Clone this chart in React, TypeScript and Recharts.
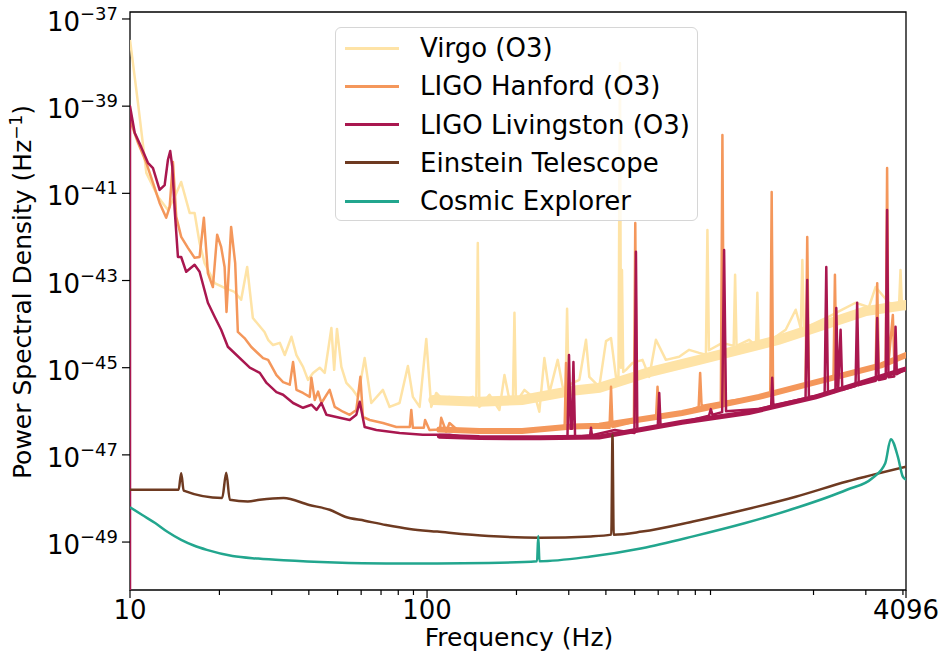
import React from "react";
import { LineChart, Line, XAxis, YAxis, ReferenceArea } from "recharts";

// every point is [frequency in Hz, log10 of the PSD in 1/Hz]
type Pt = [number, number];

const virgo: Pt[] = [
  [10, -37.48], [10.64, -38.93], [11.35, -40.53], [12.42, -41.08], [13.42, -41.38],
  [14.14, -41.08], [14.87, -40.74], [15.88, -41.45], [16.5, -41.45], [17.15, -42.14],
  [17.83, -42.6], [19.27, -43.06], [20.82, -43.17], [22.49, -43.26], [23.67, -43.44],
  [24.8, -42.69], [25.92, -43.86], [28.37, -44.18], [29.17, -44.36], [30.31, -44.48],
  [31.93, -44.43], [33.19, -44.71], [34.96, -44.29], [36.34, -44.71], [38.24, -44.98],
  [39.74, -45.28], [41.31, -45.12], [43.52, -45.0], [45.24, -45.12], [47.64, -44.09],
  [48.68, -45.05], [49.75, -44.11], [51.47, -44.98], [53.5, -45.35], [56.3, -45.51],
  [58.53, -45.67], [61.65, -44.78], [64.92, -45.81], [71.03, -45.51], [74.8, -45.9],
  [80.8, -45.81], [86.2, -44.96], [89.6, -45.67], [94.4, -45.9], [99.4, -44.34],
  [103.3, -45.9], [107.4, -45.58], [113, -45.74], [119, -45.67], [125.3, -45.81],
  [142.5, -45.67], [146.5, -45.8], [148.2, -42.14], [150, -45.9], [162.2, -45.62],
  [175.2, -45.97], [182.2, -45.17], [189.4, -45.74], [194.6, -45.7], [196.9, -43.74],
  [199.2, -45.8], [212.7, -45.51], [232.8, -45.74], [238.8, -46.01], [248.3, -44.78],
  [258.1, -45.58], [275.3, -44.82], [286.2, -45.44], [292.6, -45.5], [296.1, -43.65],
  [299.6, -45.4], [309.2, -45.35], [325.6, -45.28], [342.9, -44.36], [351.8, -45.21],
  [380, -45.44], [400.4, -44.39], [416.2, -44.32], [432.5, -45.21], [440.9, -45.2],
  [446.1, -38.01], [449.6, -45.0], [453.1, -42.76], [457.5, -45.1], [467.4, -45.05],
  [491.9, -44.89], [531.4, -44.82], [559.7, -45.21], [589.5, -44.36], [636.8, -44.82],
  [706.1, -44.75], [762.7, -44.59], [824.1, -44.66], [868.5, -44.7], [878.7, -41.84],
  [889, -44.6], [987, -44.43], [1077, -44.5], [1089, -42.87], [1101, -44.5],
  [1213, -44.36], [1280, -44.5], [1294, -43.28], [1308, -44.5], [1492, -44.29],
  [1612, -44.13], [1742, -43.67], [1812, -44.1], [1834, -42.53], [1856, -44.1],
  [2033, -43.97], [2254, -43.83], [2498, -43.67], [2772, -43.51], [3072, -43.61],
  [3236, -43.15], [3585, -43.51], [3880, -43.6], [3925, -42.76], [3970, -43.6],
  [4096, -43.67],
];

// middle of Virgo's noisy floor band
const virgoFloor: Pt[] = [
  [105, -45.74], [150, -45.78], [209, -45.74], [308, -45.53], [380, -45.46],
  [560, -45.1], [824, -44.82], [1530, -44.36], [3002, -43.7], [4096, -43.56],
];

const hanford: Pt[] = [
  [10, -39.32], [10.64, -39.84], [11.35, -40.3], [11.95, -40.76], [12.58, -41.22],
  [13.24, -41.56], [13.6, -41.31], [13.95, -40.28], [14.31, -41.54], [14.87, -42.0],
  [15.67, -42.25], [16.5, -42.48], [17.15, -42.46], [17.73, -41.56], [18.29, -42.83],
  [19.01, -43.15], [19.65, -41.95], [20.27, -42.23], [20.82, -42.69], [21.13, -43.72],
  [21.9, -41.77], [22.6, -42.6], [23.07, -44.18], [24.29, -44.32], [25.57, -44.52],
  [26.67, -44.64], [28.06, -44.78], [29.17, -44.82], [31.12, -45.17], [32.76, -45.33],
  [34.5, -45.39], [35.4, -44.87], [36.34, -45.51], [38.24, -45.58], [40.27, -45.67],
  [40.8, -45.23], [41.88, -45.74], [42.96, -45.55], [44.1, -45.81], [47, -45.51],
  [48.88, -45.9], [52.12, -46.01], [54.9, -46.08], [57.8, -45.97], [59.64, -45.21],
  [60.85, -46.13], [64.1, -46.2], [71.03, -46.27], [78.8, -46.36], [87.5, -46.36],
  [88.5, -45.97], [89.6, -46.38], [97.5, -46.38], [98.5, -46.2], [101.9, -46.43],
  [110.5, -46.42], [111.6, -46.15], [116, -46.47], [119, -46.27], [128.6, -46.47],
  [162.2, -46.47], [209.9, -46.47], [290.5, -46.38], [293.8, -44.89], [297.2, -46.36],
  [351.8, -46.38], [411.4, -46.38], [416.2, -45.44], [421, -46.36], [479.5, -46.27],
  [497, -46.25], [502.3, -41.68], [507.6, -46.22], [590, -46.15], [596.9, -45.44],
  [604, -46.12], [724.1, -46.04], [821, -45.9], [830.5, -45.12], [840, -45.88],
  [975, -45.8], [987, -39.66], [999, -45.78], [1311, -45.67], [1430, -45.6],
  [1446, -40.97], [1462, -45.58], [1880, -45.4], [1905, -42.0], [1930, -45.36],
  [2335, -45.2], [2361, -42.87], [2390, -45.18], [3240, -44.97], [3277, -43.06],
  [3315, -44.96], [3500, -44.92], [3538, -40.42], [3575, -44.9], [3699, -43.79],
  [3740, -44.85], [4096, -44.71],
];

const hanfordFloor: Pt[] = [
  [110, -46.42], [150, -46.45], [209, -46.45], [308, -46.35], [380, -46.33],
  [722, -46.04], [1311, -45.67], [2038, -45.33], [3397, -44.94], [4096, -44.71],
];

const livingston: Pt[] = [
  [10, -52], [10, -39.0], [10.37, -39.61], [10.91, -39.94], [11.49, -40.3],
  [11.95, -40.42], [12.58, -40.92], [13.08, -40.81], [13.42, -40.23], [13.66, -40.03],
  [13.88, -40.39], [14.14, -41.38], [14.5, -42.46], [14.87, -42.46], [15.46, -42.8],
  [16.5, -42.64], [17.15, -42.8], [18.29, -43.51], [19.27, -43.83], [20.27, -44.13],
  [21.35, -44.52], [25.31, -45.0], [27.35, -45.12], [28.82, -45.35], [31.12, -45.56],
  [32.76, -45.62], [35.4, -45.81], [38.24, -45.92], [40.8, -45.85], [42.44, -45.97],
  [44.1, -45.81], [45.84, -46.08], [50.8, -46.15], [54.9, -46.2], [57.8, -46.08],
  [59.33, -45.78], [61.65, -46.36], [67.5, -46.43], [80.8, -46.5], [96.8, -46.54],
  [119, -46.54], [142.2, -46.61], [238.8, -46.61], [297, -46.59], [300.5, -44.71],
  [304.5, -46.4], [307.5, -46.4], [311, -44.87], [315, -46.59], [354, -46.55],
  [356.4, -46.38], [359, -46.55], [428.9, -46.43], [499, -46.5], [504.9, -42.34],
  [510.5, -46.45], [598, -46.35], [604.8, -45.58], [611, -46.33], [724.1, -46.25],
  [890, -46.1], [902.1, -45.95], [914, -46.08], [985, -46.02], [1000, -42.3],
  [1015, -46.0], [1300, -45.95], [1440, -45.88], [1452, -45.23], [1465, -45.86],
  [1880, -45.7], [1905, -42.99], [1930, -45.68], [2180, -45.6], [2208, -42.69],
  [2237, -45.58], [2370, -45.55], [2386, -43.63], [2420, -45.53], [2467, -44.13],
  [2500, -45.51], [2770, -45.42], [2805, -43.51], [2840, -45.4], [3240, -45.3],
  [3277, -43.86], [3315, -45.28], [3500, -45.25], [3538, -41.38], [3575, -45.22],
  [3740, -45.2], [3777, -44.06], [3815, -45.15], [4096, -45.03],
];

const livingstonFloor: Pt[] = [
  [110, -46.57], [150, -46.6], [240, -46.61], [380, -46.59], [722, -46.25],
  [1213, -46.03], [2038, -45.67], [3397, -45.2], [4096, -45.03],
];

const einstein: Pt[] = [
  [10, -47.8], [14.58, -47.8], [14.87, -47.42], [15.16, -47.82], [20.43, -47.99],
  [21.09, -47.41], [21.68, -48.03], [24.93, -48.07], [27.35, -48.03], [32.88, -47.99],
  [40.12, -48.15], [47, -48.26], [52.97, -48.42], [61.7, -48.51], [72.76, -48.61],
  [87.3, -48.7], [108.2, -48.76], [161, -48.86], [238.8, -48.9], [355.9, -48.87],
  [417.2, -48.83], [421, -46.54], [424.9, -48.83], [529.3, -48.76], [786.6, -48.53],
  [1171, -48.26], [1742, -47.96], [2591, -47.61], [4096, -47.27],
];

const cosmic: Pt[] = [
  [10, -48.2], [11, -48.38], [12.19, -48.57], [13.4, -48.77], [14.87, -48.95],
  [16.4, -49.08], [18.14, -49.18], [22.13, -49.32], [27, -49.38], [32.88, -49.42],
  [48.91, -49.47], [72.76, -49.49], [108.2, -49.49], [161, -49.48], [234.6, -49.44],
  [236.8, -48.86], [239, -49.44], [355.9, -49.33], [529.3, -49.14], [786.6, -48.87],
  [1171, -48.57], [1742, -48.22], [2591, -47.8], [3159, -47.53], [3487, -47.19],
  [3641, -46.64], [3845, -47.04], [3996, -47.5], [4096, -47.57],
];

const xMajor = [10, 100, 4096];
const xMinor = [20, 30, 40, 50, 60, 70, 80, 90, 200, 300, 400, 500, 600, 700, 800, 900, 2000, 3000, 4000];
const yExponents = [-37, -39, -41, -43, -45, -47, -49];

const FONT = "'DejaVu Sans', sans-serif";
const LEFT = 130;
const BOTTOM = 590;
const yMin = Math.pow(10, -50.1);
const yMax = Math.pow(10, -36.84);

const series = [
  { name: "Virgo (O3)", color: "#fee3a6", pts: virgo, floor: virgoFloor, floorWidth: 10, curve: "linear" },
  { name: "LIGO Hanford (O3)", color: "#f4975b", pts: hanford, floor: hanfordFloor, floorWidth: 6, curve: "linear" },
  { name: "LIGO Livingston (O3)", color: "#a9174f", pts: livingston, floor: livingstonFloor, floorWidth: 5, curve: "linear" },
  { name: "Einstein Telescope", color: "#6e3a21", pts: einstein, floor: null, floorWidth: 0, curve: "monotone" },
  { name: "Cosmic Explorer", color: "#22a68e", pts: cosmic, floor: null, floorWidth: 0, curve: "monotone" },
];

const toRows = (pts: Pt[]) => pts.map(([f, e]) => ({ f, p: Math.pow(10, e) }));

const XTick = (props: any) => {
  const { payload } = props;
  const x = payload.coordinate;
  const major = xMajor.includes(payload.value);
  return (
    <g>
      <line x1={x} x2={x} y1={BOTTOM} y2={BOTTOM + (major ? 8 : 5)} stroke="#000" strokeWidth={1.2} />
      {major && (
        <text x={x} y={BOTTOM + 29} textAnchor="middle" fontSize={26} fontFamily={FONT} fill="#000">
          {payload.value}
        </text>
      )}
    </g>
  );
};

const YTick = (props: any) => {
  const { payload } = props;
  const y = payload.coordinate;
  const e = Math.round(Math.log10(payload.value));
  return (
    <g>
      <line x1={LEFT - 8} x2={LEFT} y1={y} y2={y} stroke="#000" strokeWidth={1.2} />
      <text x={LEFT - 12} y={y + 12} textAnchor="end" fontSize={26} fontFamily={FONT} fill="#000">
        10
        <tspan dy={-11} fontSize={18}>{`\u2212${-e}`}</tspan>
      </text>
    </g>
  );
};

export default function App() {
  return (
    <div style={{ position: "absolute", left: 0, top: 0, width: 939, height: 658, background: "#fff" }}>
      <LineChart width={939} height={658} margin={{ top: 12, right: 33, left: 0, bottom: 0 }}>
        <XAxis
          dataKey="f"
          type="number"
          scale="log"
          domain={[10, 4096]}
          allowDataOverflow
          ticks={[...xMajor, ...xMinor]}
          interval={0}
          tick={<XTick />}
          tickLine={false}
          axisLine={false}
          height={68}
        />
        <YAxis
          dataKey="p"
          type="number"
          scale="log"
          domain={[yMin, yMax]}
          allowDataOverflow
          ticks={yExponents.map((e) => Math.pow(10, e))}
          interval={0}
          tick={<YTick />}
          tickLine={false}
          axisLine={false}
          width={130}
        />
        {series.map((s) =>
          s.floor ? (
            <Line
              key={`${s.name}-floor`}
              data={toRows(s.floor)}
              dataKey="p"
              stroke={s.color}
              strokeWidth={s.floorWidth}
              strokeLinecap="round"
              dot={false}
              legendType="none"
              isAnimationActive={false}
            />
          ) : null
        )}
        {series.map((s) => (
          <Line
            key={s.name}
            type={s.curve as any}
            data={toRows(s.pts)}
            dataKey="p"
            name={s.name}
            stroke={s.color}
            strokeWidth={2.5}
            strokeLinejoin="round"
            dot={false}
            isAnimationActive={false}
          />
        ))}
        <ReferenceArea
          x1={10}
          x2={4096}
          y1={yMin}
          y2={yMax}
          fill="none"
          stroke="#000"
          strokeWidth={1.3}
          ifOverflow="visible"
        />
      </LineChart>

      <svg width={939} height={658} style={{ position: "absolute", left: 0, top: 0, pointerEvents: "none" }}>
        <text x={519} y={646} textAnchor="middle" fontSize={25} fontFamily={FONT} fill="#000">
          Frequency (Hz)
        </text>
        <text
          x={31}
          y={292}
          textAnchor="middle"
          fontSize={25}
          fontFamily={FONT}
          fill="#000"
          transform="rotate(-90 31 292)"
        >
          Power Spectral Density (Hz
          <tspan dy={-9} fontSize={17}>{"\u22121"}</tspan>
          <tspan dy={9}>)</tspan>
        </text>
      </svg>

      <div
        style={{
          position: "absolute",
          left: 335,
          top: 27,
          width: 363,
          height: 194,
          boxSizing: "border-box",
          border: "1.5px solid #d6d6d6",
          borderRadius: 6,
          background: "rgba(255,255,255,0.8)",
          fontFamily: FONT,
          fontSize: 26,
        }}
      >
        {series.map((s, i) => (
          <div key={s.name} style={{ position: "absolute", left: 0, top: 19 + i * 38.3 - 14, height: 30 }}>
            <div
              style={{
                position: "absolute",
                left: 9,
                top: 13.5,
                width: 54,
                height: 3,
                background: s.color,
              }}
            />
            <div style={{ position: "absolute", left: 84, top: 0, lineHeight: "30px", whiteSpace: "nowrap", color: "#000" }}>
              {s.name}
            </div>
          </div>
        ))}
      </div>
    </div>
  );
}
